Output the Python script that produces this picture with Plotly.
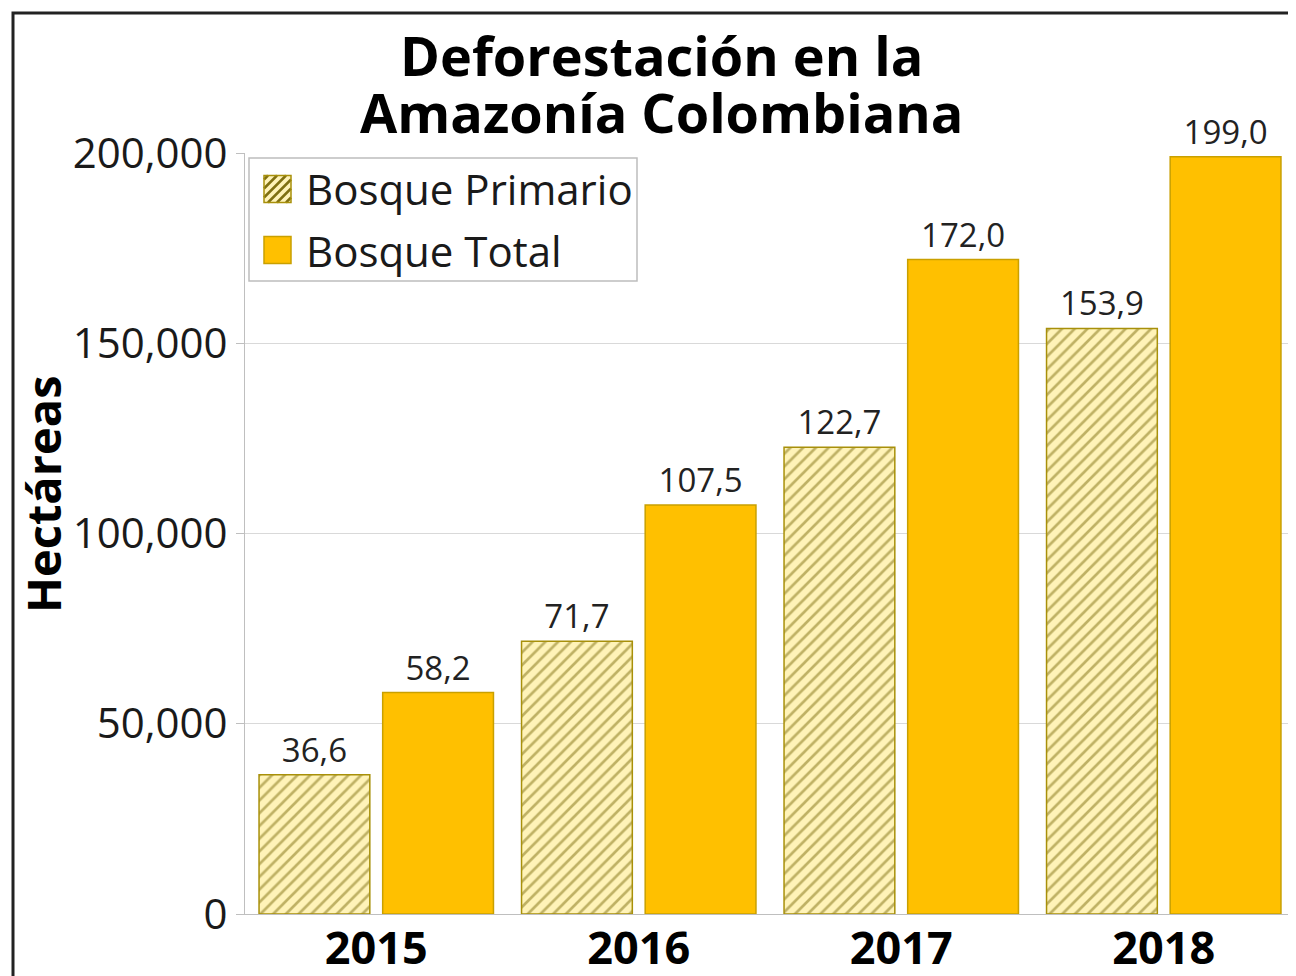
import plotly.graph_objects as go

years = ["2015", "2016", "2017", "2018"]
bosque_primario = [36600, 71700, 122700, 153900]
bosque_total = [58200, 107500, 172000, 199000]
y_ticks = [0, 50000, 100000, 150000, 200000]
series_names = ["Bosque Primario", "Bosque Total"]
title_lines = ["Deforestación en la", "Amazonía Colombiana"]
y_title = "Hectáreas"


def fmt(v):
    return f"{v/1000:.1f}".replace(".", ",")


# page has an 8px body margin -> figure is 8px smaller, positions given in screen px
OFF = 8
W, H = 1296 - OFF, 976 - OFF
L, R, T, B = 245 - OFF, 1, 153 - OFF, 62
pw, ph = W - L - R, H - T - B


def px_x(x):
    return (x - OFF - L) / pw


def px_y(y):
    return (H - B - (y - OFF)) / ph


bar_w = 0.422
inner = 0.049
PRIM_BG, PRIM_FG, PRIM_LINE = "#FFF3B8", "#7F6F10", "#A8900A"
TOT_FILL, TOT_LINE = "#FFC000", "#C9A000"

fig = go.Figure()
fig.add_trace(go.Bar(
    name=series_names[0], x=years, y=bosque_primario,
    text=[fmt(v) for v in bosque_primario], textposition="outside",
    textfont=dict(size=33, color="#222", family="Open Sans"),
    width=bar_w, offset=-bar_w - inner / 2,
    marker=dict(color=PRIM_BG,
                line=dict(color=PRIM_LINE, width=1.5),
                pattern=dict(shape="/", bgcolor=PRIM_BG, fgcolor=PRIM_FG,
                             size=9, solidity=0.3)),
    cliponaxis=False, showlegend=False,
))
fig.add_trace(go.Bar(
    name=series_names[1], x=years, y=bosque_total,
    text=[fmt(v) for v in bosque_total], textposition="outside",
    textfont=dict(size=33, color="#222", family="Open Sans"),
    width=bar_w, offset=inner / 2,
    marker=dict(color=TOT_FILL, line=dict(color=TOT_LINE, width=1.5)),
    cliponaxis=False, showlegend=False,
))

fig.update_layout(
    width=W, height=H,
    margin=dict(l=L, r=R, t=T, b=B, autoexpand=False),
    paper_bgcolor="white", plot_bgcolor="white",
    barmode="overlay",
    font=dict(family="Open Sans", color="#1a1a1a"),
    showlegend=False,
    xaxis=dict(type="category", showgrid=False, showline=True, linecolor="#BFBFBF",
               linewidth=1, ticks="", automargin=False, ticklabelstandoff=-5,
               tickfont=dict(size=45, color="black", family="Open Sans"),
               tickprefix="<b>", ticksuffix="</b>"),
    yaxis=dict(range=[0, 200000], tickvals=y_ticks, tickformat=",",
               showgrid=True, gridcolor="#D9D9D9", gridwidth=1,
               showline=True, linecolor="#BFBFBF", linewidth=1,
               ticks="outside", ticklen=8, tickcolor="#BFBFBF",
               zeroline=False, automargin=False,
               tickfont=dict(size=42, color="#1a1a1a", family="Open Sans")),
)

# title (two lines)
for txt, yc in zip(title_lines, [55, 112]):
    fig.add_annotation(text=f"<b>{txt}</b>", xref="paper", yref="paper",
                       x=px_x(661), y=px_y(yc), xanchor="center", yanchor="middle",
                       showarrow=False, font=dict(size=54, color="black", family="Open Sans"))

# y-axis title
fig.add_annotation(text=f"<b>{y_title}</b>", xref="paper", yref="paper",
                   x=px_x(43), y=px_y(494), xanchor="center", yanchor="middle",
                   textangle=-90, showarrow=False,
                   font=dict(size=47, color="black", family="Open Sans"))

# legend (drawn)
fig.add_shape(type="rect", xref="paper", yref="paper",
              x0=px_x(249), x1=px_x(637), y0=px_y(281), y1=px_y(158),
              line=dict(color="#BDBDBD", width=1.5), fillcolor="white", layer="above")
sx0, sx1 = 264, 291
for i, (yc, name) in enumerate(zip([189, 250], series_names)):
    sy0, sy1 = yc - 13.5, yc + 13.5
    if i == 0:
        fig.add_shape(type="rect", xref="paper", yref="paper",
                      x0=px_x(sx0), x1=px_x(sx1), y0=px_y(sy1), y1=px_y(sy0),
                      line=dict(width=0), fillcolor=PRIM_BG, layer="above")
        s = sx0 + sy0 + 4
        while s < sx1 + sy1:
            xa = max(sx0, s - sy1)
            xb = min(sx1, s - sy0)
            if xb > xa:
                fig.add_shape(type="line", xref="paper", yref="paper",
                              x0=px_x(xa), y0=px_y(s - xa), x1=px_x(xb), y1=px_y(s - xb),
                              line=dict(color=PRIM_FG, width=2.5), layer="above")
            s += 9
        fig.add_shape(type="rect", xref="paper", yref="paper",
                      x0=px_x(sx0), x1=px_x(sx1), y0=px_y(sy1), y1=px_y(sy0),
                      line=dict(color=PRIM_LINE, width=1.5), fillcolor="rgba(0,0,0,0)",
                      layer="above")
    else:
        fig.add_shape(type="rect", xref="paper", yref="paper",
                      x0=px_x(sx0), x1=px_x(sx1), y0=px_y(sy1), y1=px_y(sy0),
                      line=dict(color=TOT_LINE, width=1.5), fillcolor=TOT_FILL, layer="above")
    fig.add_annotation(text=name, xref="paper", yref="paper",
                       x=px_x(304), y=px_y(yc), xanchor="left", yanchor="middle",
                       showarrow=False, font=dict(size=42, color="#1a1a1a", family="Open Sans"))

# outer frame
fig.add_shape(type="rect", xref="paper", yref="paper",
              x0=px_x(13), x1=px_x(1320), y0=px_y(1000), y1=px_y(13),
              line=dict(color="#222", width=3), fillcolor="rgba(0,0,0,0)", layer="above")

fig.write_html("out.html")
